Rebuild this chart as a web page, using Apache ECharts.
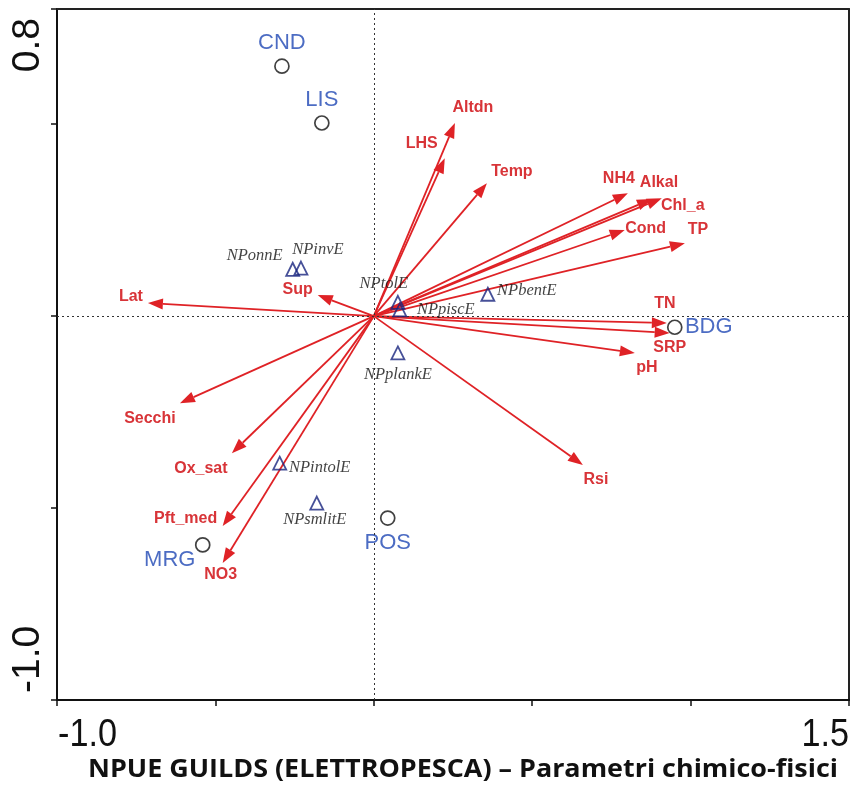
<!DOCTYPE html>
<html>
<head>
<meta charset="utf-8">
<script src="https://cdn.jsdelivr.net/npm/echarts@6/dist/echarts.min.js"></script>
<style>
  html, body { margin: 0; padding: 0; background: #fff; }
  #chart { width: 852px; height: 787px; }
</style>
</head>
<body>
<div id="chart"></div>
<script>
// Environmental variables (biplot arrows, axis 1 / axis 2 scores)
const arrowNames = ['Altdn', 'LHS', 'Temp', 'NH4', 'Alkal', 'Chl_a', 'Cond', 'TP', 'TN', 'SRP', 'pH', 'Rsi',
                    'Lat', 'Sup', 'Secchi', 'Ox_sat', 'Pft_med', 'NO3'];
const arrowX = [0.256, 0.224, 0.357, 0.802, 0.878, 0.909, 0.792, 0.982, 0.925, 0.934, 0.824, 0.660,
                -0.713, -0.177, -0.612, -0.448, -0.477, -0.477];
const arrowY = [0.503, 0.411, 0.346, 0.320, 0.305, 0.307, 0.224, 0.190, -0.018, -0.044, -0.096, -0.388,
                0.034, 0.055, -0.227, -0.357, -0.547, -0.643];

// Sampling sites
const siteNames = ['CND', 'LIS', 'BDG', 'POS', 'MRG'];
const siteX = [-0.290, -0.164, 0.950, 0.044, -0.540];
const siteY = [0.651, 0.503, -0.029, -0.526, -0.596];

// Fish guilds (NPUE)
const guildNames = ['NPonnE', 'NPinvE', 'NPtolE', 'NPpiscE', 'NPbentE', 'NPplankE', 'NPintolE', 'NPsmlitE'];
const guildX = [-0.256, -0.230, 0.076, 0.082, 0.360, 0.076, -0.297, -0.180];
const guildY = [0.122, 0.125, 0.036, 0.016, 0.057, -0.096, -0.383, -0.487];

// Axis end labels
const xTickValues = [-1.0, 1.5];
const xTickLabels = ['-1.0', '1.5'];
const yTickValues = [-1.0, 0.8];
const yTickLabels = ['-1.0', '0.8'];

const titleText = 'NPUE GUILDS (ELETTROPESCA) \u2013 Parametri chimico-fisici';

// Label placement (pixel offsets from the mark)
const arrowLabelOffset = {
  Altdn: [18, -15], LHS: [-23, -15], Temp: [25, -12], NH4: [-9, -15], Alkal: [7, -16],
  Chl_a: [21, 7], Cond: [21, -2], TP: [13, -14], TN: [-2, -19], SRP: [0, 15], pH: [12, 15],
  Rsi: [13, 15], Lat: [-17, -6], Sup: [-20, -5], Secchi: [-30, 15], Ox_sat: [-31, 15],
  Pft_med: [-37, -8], NO3: [-2, 12]
};
const siteLabelOffset = { CND: [0, -23], LIS: [0, -23], BDG: [34, 0], POS: [0, 25], MRG: [-33, 15] };
const guildLabelOffset = {
  NPonnE: [-38, -14], NPinvE: [17, -18], NPtolE: [-14, -19], NPpiscE: [46, 0],
  NPbentE: [39, -4], NPplankE: [0, 22], NPintolE: [40, 5], NPsmlitE: [-2, 17]
};

const RED = '#df2226';
const RED_TEXT = '#d83438';
const BLUE_TEXT = '#1f47b4';
const NAVY = '#18247e';

const chart = echarts.init(document.getElementById('chart'), null, { renderer: 'canvas' });

const arrowData = arrowNames.map((n, i) => ({ name: n, value: [arrowX[i], arrowY[i]] }));
const siteData = siteNames.map((n, i) => ({
  name: n, value: [siteX[i], siteY[i]], label: { offset: siteLabelOffset[n] }
}));
const guildData = guildNames.map((n, i) => ({
  name: n, value: [guildX[i], guildY[i]], label: { offset: guildLabelOffset[n] }
}));

function renderArrow(params, api) {
  const x = api.value(0), y = api.value(1);
  const name = arrowNames[params.dataIndex];
  const p0 = api.coord([0, 0]);
  const p1 = api.coord([x, y]);
  const dx = p1[0] - p0[0], dy = p1[1] - p0[1];
  const len = Math.sqrt(dx * dx + dy * dy);
  const ux = dx / len, uy = dy / len;
  const headLen = 15, headHalf = 5.5;
  const bx = p1[0] - ux * headLen, by = p1[1] - uy * headLen;
  const off = arrowLabelOffset[name] || [0, 0];
  return {
    type: 'group',
    children: [
      { type: 'line', shape: { x1: p0[0], y1: p0[1], x2: bx, y2: by },
        style: { stroke: RED, lineWidth: 1.8 } },
      { type: 'polygon',
        shape: { points: [[p1[0], p1[1]], [bx - uy * headHalf, by + ux * headHalf], [bx + uy * headHalf, by - ux * headHalf]] },
        style: { fill: RED } },
      { type: 'text', x: p1[0] + off[0], y: p1[1] + off[1],
        style: { text: name, fill: RED_TEXT, font: 'bold 16px "Liberation Sans", Arial, sans-serif',
                 align: 'center', verticalAlign: 'middle' } }
    ]
  };
}

const option = {
  backgroundColor: '#fff',
  animation: false,
  grid: { left: 57, top: 9, right: 3, bottom: 87, containLabel: false },
  xAxis: [
    { type: 'value', min: -1.0, max: 1.5, interval: 0.5, position: 'bottom',
      axisLine: { show: true, onZero: false, lineStyle: { color: '#111', width: 2 } },
      axisTick: { show: true, length: 6, lineStyle: { color: '#111', width: 1.5 } },
      axisLabel: { show: false }, splitLine: { show: false } },
    { type: 'value', min: -1.0, max: 1.5, position: 'top',
      axisLine: { show: true, onZero: false, lineStyle: { color: '#222', width: 2 } },
      axisTick: { show: false }, axisLabel: { show: false }, splitLine: { show: false } }
  ],
  yAxis: [
    { type: 'value', min: -1.0, max: 0.8, interval: 0.5, position: 'left',
      axisLine: { show: true, onZero: false, lineStyle: { color: '#111', width: 2 } },
      axisTick: { show: true, length: 6, lineStyle: { color: '#111', width: 1.5 } },
      axisLabel: { show: false }, splitLine: { show: false } },
    { type: 'value', min: -1.0, max: 0.8, position: 'right',
      axisLine: { show: true, onZero: false, lineStyle: { color: '#222', width: 2 } },
      axisTick: { show: false }, axisLabel: { show: false }, splitLine: { show: false } }
  ],
  series: [
    {
      type: 'scatter', name: 'zero', data: [], silent: true,
      markLine: {
        silent: true, symbol: 'none', label: { show: false },
        lineStyle: { color: '#333', type: [2, 3], width: 1 },
        data: [{ xAxis: 0 }, { yAxis: 0 }]
      }
    },
    {
      type: 'custom', name: 'variables', renderItem: renderArrow, data: arrowData, z: 3
    },
    {
      type: 'scatter', name: 'sites', data: siteData, symbol: 'circle', symbolSize: 14, z: 4,
      itemStyle: { color: 'rgba(255,255,255,0)', borderColor: '#111', borderWidth: 1.7 },
      label: { show: true, position: 'inside', formatter: '{b}', color: BLUE_TEXT,
               fontSize: 22, fontFamily: '"Liberation Sans", Arial, sans-serif' }
    },
    {
      type: 'scatter', name: 'guilds', data: guildData, symbol: 'triangle', symbolSize: 13, z: 5,
      itemStyle: { color: 'rgba(255,255,255,0)', borderColor: NAVY, borderWidth: 1.8 },
      label: { show: true, position: 'inside', formatter: '{b}', color: '#111',
               fontSize: 16.5, fontStyle: 'italic', fontFamily: '"Liberation Serif", "Times New Roman", serif' }
    }
  ]
};

chart.setOption(option);

// Axis end labels and caption
const graphics = [];
xTickValues.forEach((v, i) => {
  const p = chart.convertToPixel({ gridIndex: 0 }, [v, -1.0]);
  graphics.push({
    type: 'text', x: p[0] + (i === 0 ? 1 : 0), y: p[1] + 36, scaleX: 0.9,
    style: { text: xTickLabels[i], fill: '#111', font: '38px "Liberation Sans", Arial, sans-serif',
             align: i === 0 ? 'left' : 'right', verticalAlign: 'middle' }
  });
});
yTickValues.forEach((v, i) => {
  const p = chart.convertToPixel({ gridIndex: 0 }, [-1.0, v]);
  graphics.push({
    type: 'text', x: 28, y: i === 0 ? p[1] - 7 : p[1] + 9, rotation: Math.PI / 2,
    style: { text: yTickLabels[i], fill: '#111', font: '39px "Liberation Sans", Arial, sans-serif',
             align: i === 0 ? 'left' : 'right', verticalAlign: 'middle' }
  });
});

const titleFont = 'bold 25px "Open Sans", "Liberation Sans", sans-serif';
const ctx = document.createElement('canvas').getContext('2d');
ctx.font = titleFont;
const titleW = ctx.measureText(titleText).width || 750;
graphics.push({
  type: 'text', x: 463, y: 770, scaleX: 750 / titleW,
  style: { text: titleText, fill: '#111', font: titleFont, align: 'center', verticalAlign: 'middle' }
});

chart.setOption({ graphic: graphics });
</script>
</body>
</html>
